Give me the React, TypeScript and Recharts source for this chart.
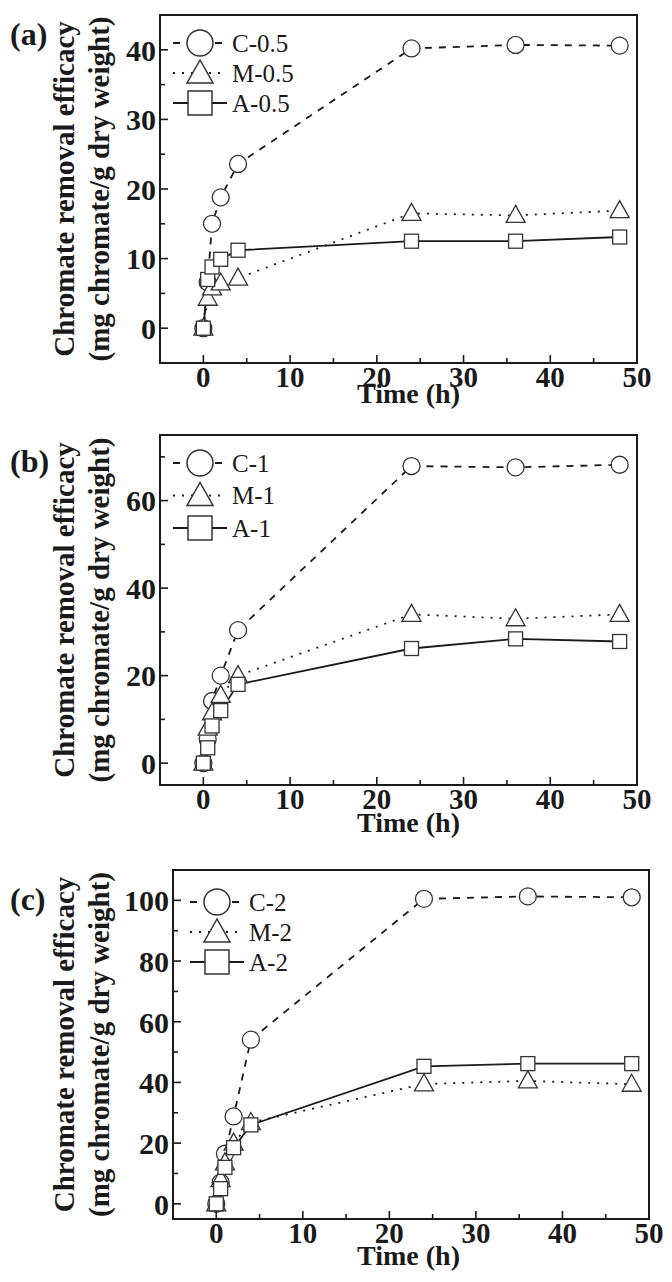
import React from 'react';
import { LineChart, Line, XAxis, YAxis, ReferenceArea, Legend } from 'recharts';

// sampling times (h)
const times = [0, 0.5, 1, 2, 4, 24, 36, 48];

// panel (a) 0.5 series
const c05 = [0, 6.6, 15, 18.8, 23.6, 40.2, 40.7, 40.6];
const m05 = [0, 4.3, 5.8, 6.5, 7.2, 16.5, 16.2, 16.9];
const a05 = [0, 7.0, 8.8, 9.9, 11.2, 12.5, 12.5, 13.1];

// panel (b) 1 series
const c1 = [0, 5.5, 14.2, 20, 30.4, 67.9, 67.6, 68.2];
const m1 = [0, 8, 11.5, 15.5, 20, 34, 33, 34];
const a1 = [0, 3.5, 8.5, 12, 18, 26.2, 28.4, 27.8];

// panel (c) 2 series
const c2 = [0, 7, 16.5, 28.8, 54.1, 100.5, 101.3, 101];
const m2 = [0, 8, 13.5, 20, 26.8, 39.5, 40.5, 39.4];
const a2 = [0, 5, 12, 18.5, 26, 45.3, 46.2, 46.2];

const xTicks = [0, 5, 10, 15, 20, 25, 30, 35, 40, 45, 50];
const yTicksA = [0, 5, 10, 15, 20, 25, 30, 35, 40];
const yTicksB = [0, 10, 20, 30, 40, 50, 60, 70];
const yTicksC = [0, 10, 20, 30, 40, 50, 60, 70, 80, 90, 100];

const namesA = ['C-0.5', 'M-0.5', 'A-0.5'];
const namesB = ['C-1', 'M-1', 'A-1'];
const namesC = ['C-2', 'M-2', 'A-2'];

const FONT = "'Liberation Serif', 'Times New Roman', Times, serif";
const INK = '#1a1a1a';
const DASHES = ['7 7', '2 7', undefined];

const buildRows = (c: number[], m: number[], a: number[]) =>
  times.map((t, i) => ({ t, C: c[i], M: m[i], A: a[i] }));

// marker shapes
const marker = (kind: number, cx: number, cy: number, big: boolean, key?: any) => {
  const common = { fill: '#fff', stroke: '#333', strokeWidth: big ? 1.5 : 1.3 };
  if (kind === 0) return <circle key={key} cx={cx} cy={cy} r={big ? 13 : 8.5} {...common} />;
  if (kind === 1) {
    const w = big ? 13 : 9.5;
    const h1 = big ? 13 : 10;
    const h2 = big ? 10 : 7;
    return (
      <polygon
        key={key}
        points={`${cx},${cy - h1} ${cx - w},${cy + h2} ${cx + w},${cy + h2}`}
        {...common}
      />
    );
  }
  const s = big ? 12 : 7;
  return <rect key={key} x={cx - s} y={cy - s} width={s * 2} height={s * 2} {...common} />;
};

const dotFor = (kind: number) => (p: any) => {
  if (p.cx == null || p.cy == null) return <g key={p.index} />;
  return marker(kind, p.cx, p.cy, false, `d-${kind}-${p.index}`);
};

const YTick = (props: any) => {
  const { x, y, payload, step } = props;
  const v = payload.value;
  const major = v % step === 0;
  return (
    <g>
      <line x1={x} x2={x + (major ? 8 : 5)} y1={y} y2={y} stroke={INK} strokeWidth={1.6} />
      {major && (
        <text x={x - 4} y={y} dy="0.36em" textAnchor="end" fontFamily={FONT} fontWeight="bold" fontSize={30} fill={INK}>
          {v}
        </text>
      )}
    </g>
  );
};

const XTick = (props: any) => {
  const { x, y, payload } = props;
  const v = payload.value;
  const major = v % 10 === 0;
  return (
    <g>
      <line x1={x} x2={x} y1={y} y2={y - (major ? 8 : 5)} stroke={INK} strokeWidth={1.6} />
      {major && (
        <text x={x} y={y + 24} textAnchor="middle" fontFamily={FONT} fontWeight="bold" fontSize={29} fill={INK}>
          {v}
        </text>
      )}
    </g>
  );
};

const LegendBox = ({ names, gap }: { names: string[]; gap: number }) => (
  <svg width={180} height={gap * 2 + 34} style={{ display: 'block', overflow: 'visible' }}>
    {names.map((n, i) => {
      const cy = 16 + i * gap;
      return (
        <g key={n}>
          <line x1={0} x2={54} y1={cy} y2={cy} stroke={INK} strokeWidth={1.8} strokeDasharray={DASHES[i]} />
          {marker(i, 27, cy, true)}
          <text x={59} y={cy} dy="0.34em" fontFamily={FONT} fontSize={25} fill={INK}>
            {n}
          </text>
        </g>
      );
    })}
  </svg>
);

interface PanelProps {
  tag: string;
  names: string[];
  rows: any[];
  yDomain: [number, number];
  yTicks: number[];
  yStep: number;
  top: number;
  height: number;
  yAxisWidth: number;
  marginRight: number;
  xAxisHeight: number;
  tagY: number;
  titleDy: number;
  legendLeft: number;
  legendTop: number;
  legendGap: number;
}

const Panel = (p: PanelProps) => {
  const yTitle = (lp: any) => {
    const vb = lp.viewBox || {};
    const cy = (vb.y ?? 15) + (vb.height ?? 340) / 2;
    const txt = { fontFamily: FONT, fontWeight: 'bold' as const, fontSize: 29, fill: INK, textAnchor: 'middle' as const };
    return (
      <g>
        <text x={10} y={p.tagY} fontFamily={FONT} fontWeight="bold" fontSize={32} fill={INK}>
          {p.tag}
        </text>
        <text transform={`translate(64, ${cy}) rotate(-90)`} dy="0.35em" {...txt}>
          Chromate removal efficacy
        </text>
        <text transform={`translate(99, ${cy}) rotate(-90)`} dy="0.35em" {...txt}>
          (mg chromate/g dry weight)
        </text>
      </g>
    );
  };
  const xTitle = (lp: any) => {
    const vb = lp.viewBox || {};
    return (
      <text x={460} y={(vb.y ?? 0) + p.titleDy} textAnchor="end" fontFamily={FONT} fontWeight="bold" fontSize={28} fill={INK}>
        Time (h)
      </text>
    );
  };
  return (
    <div style={{ position: 'absolute', left: 0, top: p.top }}>
      <LineChart
        width={672}
        height={p.height}
        data={p.rows}
        margin={{ top: 15, right: p.marginRight, left: 0, bottom: 0 }}
      >
        <ReferenceArea
          x1={-5}
          x2={50}
          y1={p.yDomain[0]}
          y2={p.yDomain[1]}
          fill="none"
          stroke={INK}
          strokeWidth={2}
          ifOverflow="visible"
        />
        <XAxis
          type="number"
          dataKey="t"
          domain={[-5, 50]}
          ticks={xTicks}
          interval={0}
          allowDataOverflow
          axisLine={false}
          tickLine={false}
          tickSize={0}
          tickMargin={0}
          height={p.xAxisHeight}
          tick={<XTick />}
          label={{ content: xTitle }}
        />
        <YAxis
          type="number"
          domain={p.yDomain}
          ticks={p.yTicks}
          interval={0}
          allowDataOverflow
          axisLine={false}
          tickLine={false}
          tickSize={0}
          tickMargin={0}
          width={p.yAxisWidth}
          tick={<YTick step={p.yStep} />}
          label={{ content: yTitle }}
        />
        <Legend
          layout="vertical"
          align="center"
          verticalAlign="middle"
          content={() => <LegendBox names={p.names} gap={p.legendGap} />}
          wrapperStyle={{ position: 'absolute', left: p.legendLeft, top: p.legendTop, width: 'auto', height: 'auto' }}
        />
        <Line dataKey="C" name={p.names[0]} stroke={INK} strokeWidth={1.8} strokeDasharray={DASHES[0]} dot={dotFor(0)} activeDot={false} isAnimationActive={false} />
        <Line dataKey="M" name={p.names[1]} stroke={INK} strokeWidth={1.8} strokeDasharray={DASHES[1]} dot={dotFor(1)} activeDot={false} isAnimationActive={false} />
        <Line dataKey="A" name={p.names[2]} stroke={INK} strokeWidth={1.8} dot={dotFor(2)} activeDot={false} isAnimationActive={false} />
      </LineChart>
    </div>
  );
};

export default function App() {
  return (
    <div style={{ position: 'absolute', left: 0, top: 0, width: 672, height: 1282, background: '#fff', overflow: 'hidden' }}>
      <Panel
        tag="(a)"
        names={namesA}
        rows={buildRows(c05, m05, a05)}
        yDomain={[-5, 45]}
        yTicks={yTicksA}
        yStep={10}
        top={0}
        height={420}
        yAxisWidth={160}
        marginRight={35}
        xAxisHeight={57}
        tagY={45}
        titleDy={40}
        legendLeft={173}
        legendTop={27}
        legendGap={30}
      />
      <Panel
        tag="(b)"
        names={namesB}
        rows={buildRows(c1, m1, a1)}
        yDomain={[-5, 75]}
        yTicks={yTicksB}
        yStep={20}
        top={420}
        height={430}
        yAxisWidth={160}
        marginRight={35}
        xAxisHeight={65}
        tagY={52}
        titleDy={47}
        legendLeft={173}
        legendTop={27}
        legendGap={32.5}
      />
      <Panel
        tag="(c)"
        names={namesC}
        rows={buildRows(c2, m2, a2)}
        yDomain={[-5, 110]}
        yTicks={yTicksC}
        yStep={20}
        top={855}
        height={427}
        yAxisWidth={173}
        marginRight={23}
        xAxisHeight={63}
        tagY={55}
        titleDy={46}
        legendLeft={190}
        legendTop={31}
        legendGap={30}
      />
    </div>
  );
}
